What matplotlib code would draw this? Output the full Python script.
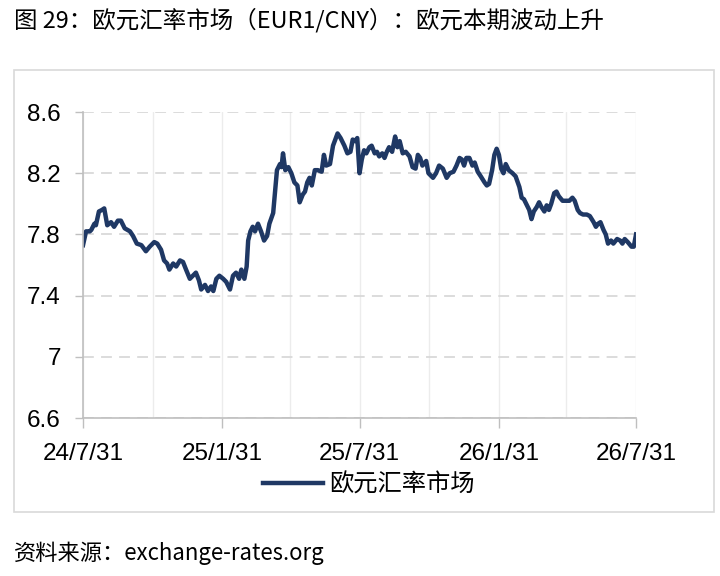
import pandas as pd
import matplotlib
matplotlib.use("Agg")
import matplotlib.pyplot as plt
import matplotlib.dates as mdates
from matplotlib.patches import Rectangle

# 数据：起点 2024/7/31 起的天数 与 欧元汇率
start_date = "2024-07-31"
day_offset = [0, 4, 9, 11, 15, 17, 21, 25, 28, 32, 37, 41, 46, 50, 55, 62, 66, 71, 77, 83,
              88, 94, 98, 103, 107, 111, 114, 119, 123, 128, 132, 136, 141, 145, 149, 153, 156, 161, 165, 169,
              172, 176, 180,
              185, 189, 194, 198, 202, 206, 209, 213, 216, 218, 221, 224, 227, 231, 235, 239, 243, 246, 251, 254,
              256, 260, 262, 264, 267, 271, 275, 279, 283, 286, 290, 293, 296, 299, 302, 306, 310, 315, 318, 321,
              326, 330, 336, 340, 345, 349, 353, 356, 359,
              362, 365, 368, 371, 374, 378, 381, 385, 388, 391, 395, 398, 401, 404, 408, 412, 415, 418, 422, 426,
              431, 435, 439, 442, 445, 448, 453, 456, 462, 466, 470, 475, 480, 484, 489, 493, 497, 500, 503, 506,
              510, 514, 517, 521, 525, 530, 533, 536, 540, 543,
              546, 549, 552, 555, 558, 562, 567, 571, 576, 579, 582, 586, 589, 592, 595, 599, 602, 605, 609, 612,
              615, 618, 622, 625, 628, 633, 637, 642, 646, 649, 653, 656, 660, 665, 669, 674, 677, 680, 683, 687,
              690, 693, 697, 700, 705, 709, 712, 715, 719, 724, 727, 730]
eur_cny = [7.73, 7.82, 7.82, 7.83, 7.87, 7.86, 7.95, 7.96, 7.97, 7.86, 7.88, 7.85, 7.89, 7.89, 7.84, 7.82, 7.79, 7.74, 7.73, 7.69,
           7.72, 7.75, 7.74, 7.70, 7.63, 7.61, 7.57, 7.61, 7.59, 7.63, 7.62, 7.57, 7.51, 7.53, 7.55, 7.50, 7.44, 7.47, 7.43, 7.46,
           7.43, 7.51, 7.53,
           7.51, 7.49, 7.44, 7.53, 7.55, 7.51, 7.57, 7.51, 7.59, 7.76, 7.82, 7.85, 7.82, 7.87, 7.82, 7.76, 7.79, 7.87, 7.94, 8.11,
           8.22, 8.26, 8.24, 8.33, 8.22, 8.24, 8.20, 8.14, 8.12, 8.01, 8.06, 8.08, 8.14, 8.17, 8.12, 8.22, 8.22, 8.21, 8.32, 8.25,
           8.26, 8.38, 8.46, 8.43, 8.38, 8.33, 8.34, 8.42, 8.41,
           8.43, 8.20, 8.29, 8.35, 8.33, 8.37, 8.38, 8.33, 8.34, 8.31, 8.33, 8.30, 8.34, 8.37, 8.34, 8.44, 8.37, 8.41, 8.33, 8.34,
           8.31, 8.24, 8.23, 8.32, 8.30, 8.25, 8.28, 8.20, 8.17, 8.20, 8.25, 8.23, 8.17, 8.20, 8.21, 8.25, 8.30, 8.29, 8.25, 8.30,
           8.30, 8.25, 8.27, 8.21, 8.18, 8.14, 8.12, 8.13, 8.22, 8.32,
           8.36, 8.32, 8.23, 8.20, 8.26, 8.22, 8.20, 8.18, 8.11, 8.04, 8.03, 7.99, 7.96, 7.90, 7.95, 7.98, 8.01, 7.98, 7.95, 7.99,
           7.96, 8.00, 8.07, 8.08, 8.05, 8.02, 8.02, 8.02, 8.04, 8.02, 7.96, 7.94, 7.93, 7.93, 7.92, 7.88, 7.85, 7.87, 7.88, 7.83,
           7.80, 7.74, 7.76, 7.74, 7.77, 7.76, 7.74, 7.77, 7.75, 7.72, 7.72, 7.80]

major_dates = ["2024-07-31", "2025-01-31", "2025-07-31", "2026-01-31", "2026-07-31"]
major_labels = ["24/7/31", "25/1/31", "25/7/31", "26/1/31", "26/7/31"]
minor_dates = ["2024-10-31", "2025-04-30", "2025-10-31", "2026-04-30"]
y_ticks = [6.6, 7.0, 7.4, 7.8, 8.2, 8.6]
y_labels = ["6.6", "7", "7.4", "7.8", "8.2", "8.6"]

title = "图 29：欧元汇率市场（EUR1/CNY）：欧元本期波动上升"
source = "资料来源：exchange-rates.org"
series_name = "欧元汇率市场"

cjk = ["Noto Sans CJK SC", "DejaVu Sans"]
latin = ["Liberation Sans", "DejaVu Sans"]
line_color = "#1f3864"

dates = pd.Timestamp(start_date) + pd.to_timedelta(day_offset, unit="D")

fig = plt.figure(figsize=(7.2, 5.76), dpi=100)
fig.patch.set_facecolor("white")
ax = fig.add_axes([0.1153, 0.2743, 0.7681, 0.5312])

ax.plot(dates, eur_cny, color=line_color, linewidth=3.2, solid_joinstyle="round",
        label=series_name)

ax.set_xlim(pd.Timestamp(major_dates[0]), pd.Timestamp(major_dates[-1]))
ax.set_ylim(6.6, 8.6)

ax.set_xticks([mdates.date2num(pd.Timestamp(d)) for d in major_dates])
ax.set_xticklabels(major_labels, family=latin, fontsize=17.5)
ax.set_xticks([mdates.date2num(pd.Timestamp(d)) for d in minor_dates], minor=True)
ax.set_yticks(y_ticks)
ax.set_yticklabels(y_labels, family=latin, fontsize=17.5)

ax.tick_params(axis="x", which="major", direction="out", length=7, width=1, color="#bfbfbf", pad=11)
ax.tick_params(axis="x", which="minor", length=0)
ax.tick_params(axis="y", direction="out", length=6, width=1, color="#bfbfbf", pad=10)

# 网格线
ax.grid(axis="x", which="both", color="#ececec", linewidth=1, linestyle="-")
ax.grid(axis="y", color="#d9d9d9", linewidth=1.3, linestyle=(0, (6, 4)))
ax.set_axisbelow(True)

for side in ["top", "right"]:
    ax.spines[side].set_visible(False)
for side in ["left", "bottom"]:
    ax.spines[side].set_color("#bfbfbf")
    ax.spines[side].set_linewidth(1.2)

leg = fig.legend(loc="center", bbox_to_anchor=(0.5125, 0.158), frameon=False,
                 handlelength=2.45, handletextpad=0.25, prop={"family": cjk, "size": 17.5})

# 外框
fig.patches.append(Rectangle((0.0194, 0.111), 0.9722, 0.7674, transform=fig.transFigure,
                             fill=False, edgecolor="#d9d9d9", linewidth=1.2))

fig.text(0.0194, 0.965, title, family=cjk, fontsize=16.9, ha="left", va="center")
fig.text(0.0194, 0.040, source, family=cjk, fontsize=16, ha="left", va="center")

fig.savefig("out.png", dpi=100, facecolor="white")
